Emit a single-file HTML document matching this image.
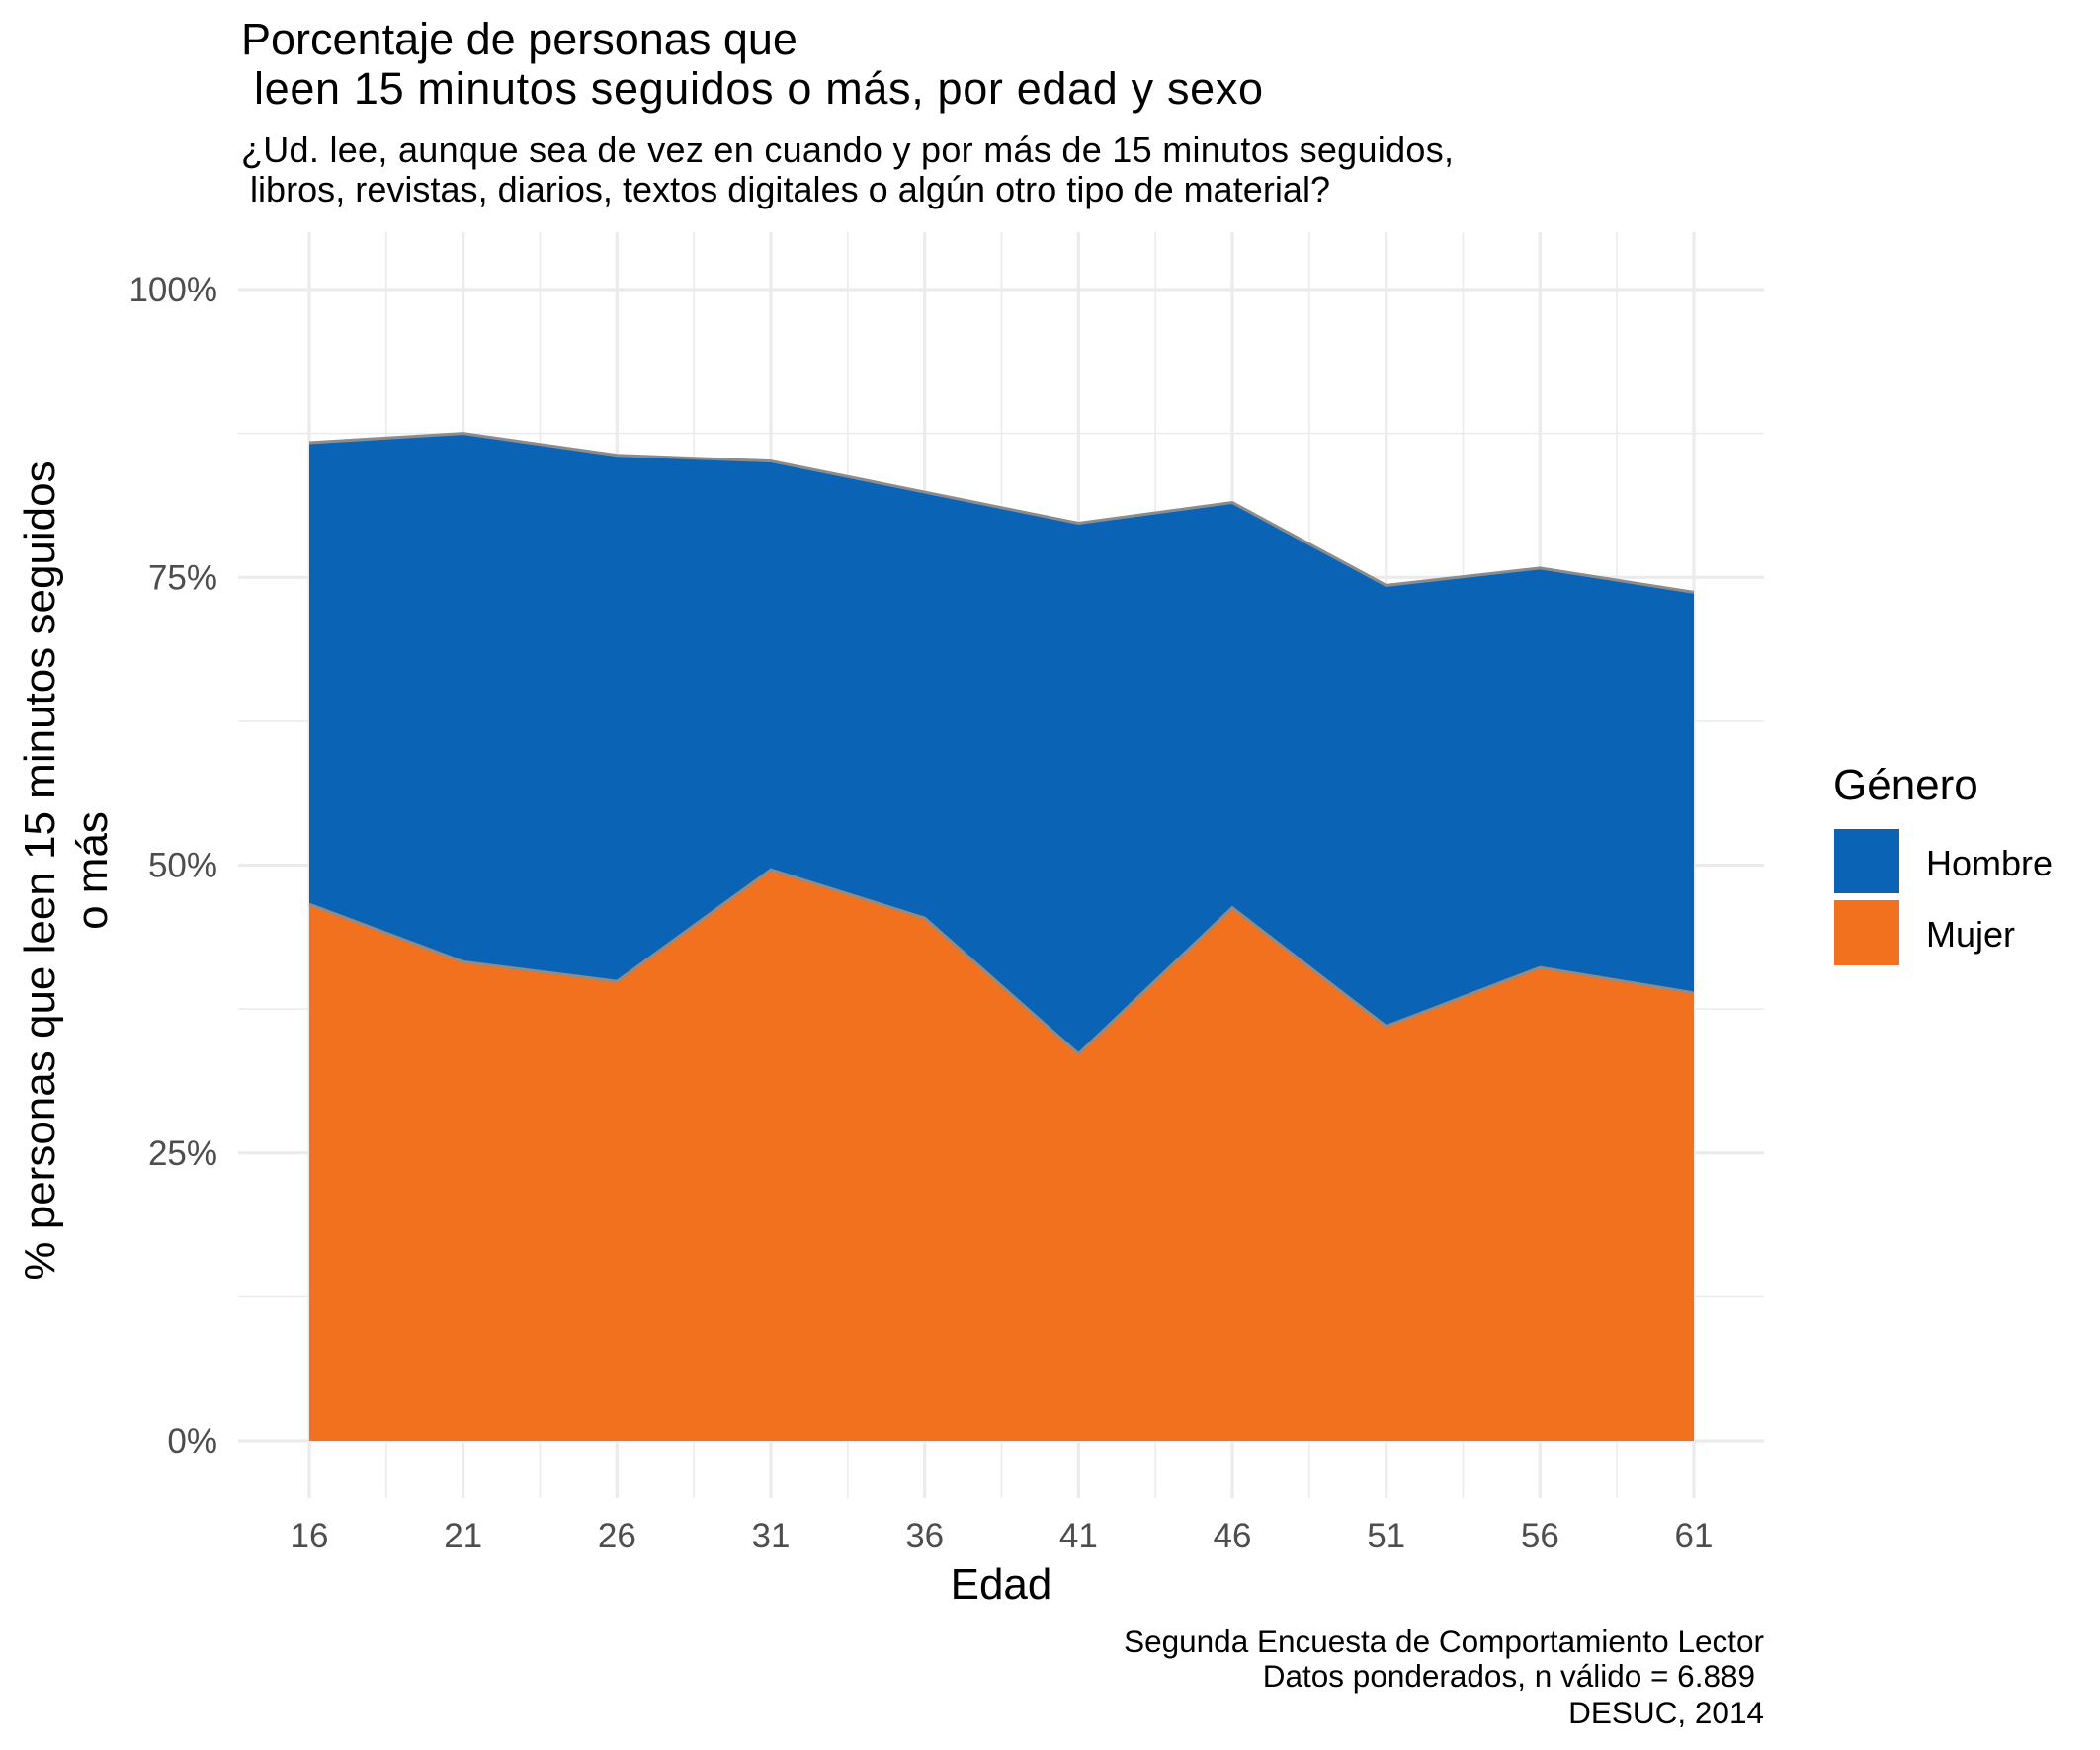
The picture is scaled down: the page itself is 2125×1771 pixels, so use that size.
<!DOCTYPE html>
<html><head><meta charset="utf-8"><style>html,body{margin:0;padding:0;background:#fff}svg{display:block;font-family:"Liberation Sans",Arial,sans-serif}</style></head>
<body>
<svg id="chart" width="2125" height="1771" viewBox="0 0 2125 1771" xmlns="http://www.w3.org/2000/svg">
<rect width="2125" height="1771" fill="#fff"/>
<g id="grid"></g>
<g id="areas"></g>
<g id="ticks"></g>
<text x="244" y="55" font-size="45" fill="#000">Porcentaje de personas que</text>
<text x="257" y="105" font-size="45" fill="#000" textLength="1021">leen 15 minutos seguidos o más, por edad y sexo</text>
<text x="244" y="164" font-size="36" fill="#000" textLength="1227">¿Ud. lee, aunque sea de vez en cuando y por más de 15 minutos seguidos,</text>
<text x="253" y="204" font-size="36" fill="#000" textLength="1093">libros, revistas, diarios, textos digitales o algún otro tipo de material?</text>
<text x="1013" y="1618" font-size="44" text-anchor="middle" fill="#000">Edad</text>
<g transform="translate(0,881) rotate(-90)">
<text x="0" y="55" font-size="44" text-anchor="middle" fill="#000">% personas que leen 15 minutos seguidos</text>
<text x="0" y="108" font-size="44" text-anchor="middle" fill="#000">o más</text>
</g>
<text x="1855" y="809" font-size="44" fill="#000">Género</text>
<rect x="1856" y="839" width="66" height="65" fill="#0a63b4"/>
<rect x="1856" y="911" width="66" height="66" fill="#f2711f"/>
<text x="1949" y="886" font-size="36" fill="#000">Hombre</text>
<text x="1949" y="958" font-size="36" fill="#000">Mujer</text>
<g font-size="31.5" fill="#000" text-anchor="end">
<text x="1785" y="1672">Segunda Encuesta de Comportamiento Lector</text>
<text x="1776" y="1707">Datos ponderados, n válido = 6.889</text>
<text x="1785" y="1744">DESUC, 2014</text>
</g>
</svg>
<script>
const ages = [16,21,26,31,36,41,46,51,56,61];
const mujer = [46.6,41.6,39.9,49.6,45.4,33.6,46.3,36.0,41.1,38.9];
const hombre = [40.1,45.9,45.7,35.5,37.0,46.1,35.2,38.3,34.7,34.8];
const yTicks = [0,25,50,75,100];
const yTickLabels = ["0%","25%","50%","75%","100%"];

const NS = "http://www.w3.org/2000/svg";
const X0=313, X1=1714, Y0=1458, Y1=293;
const PL=241, PR=1785, PT=235, PB=1516;
const xs = a => X0 + (a-16)/(61-16)*(X1-X0);
const ys = v => Y0 - v/100*(Y0-Y1);
function mk(tag, attrs, parent){const e=document.createElementNS(NS,tag);for(const k in attrs)e.setAttribute(k,attrs[k]);parent.appendChild(e);return e;}
const grid=document.getElementById('grid'), areas=document.getElementById('areas'), ticks=document.getElementById('ticks');
for(let i=0;i<yTicks.length-1;i++){
  const v=(yTicks[i]+yTicks[i+1])/2;
  const l=mk('line',{x1:PL,x2:PR,y1:ys(v),y2:ys(v),stroke:'#ebebeb','stroke-width':1.6},grid);
  
  
}
for(let i=0;i<ages.length-1;i++){
  const a=(ages[i]+ages[i+1])/2;
  const l=mk('line',{x1:xs(a),x2:xs(a),y1:PT,y2:PB,stroke:'#ebebeb','stroke-width':1.6},grid);
  
  
}
yTicks.forEach((v,i)=>{
  const l=mk('line',{x1:PL,x2:PR,y1:ys(v),y2:ys(v),stroke:'#ebebeb','stroke-width':3.2},grid);
  
  
  const t=mk('text',{x:220,y:ys(v)+12,'font-size':35,'text-anchor':'end',fill:'#4d4d4d'},ticks);
  t.textContent=yTickLabels[i];
  
  
});
ages.forEach(a=>{
  const l=mk('line',{x1:xs(a),x2:xs(a),y1:PT,y2:PB,stroke:'#ebebeb','stroke-width':3.2},grid);
  
  
  const t=mk('text',{x:xs(a),y:1566,'font-size':35,'text-anchor':'middle',fill:'#4d4d4d'},ticks);
  t.textContent=String(a);
  
  
});
const tot = ages.map((_,i)=>mujer[i]+hombre[i]);
const topM = ages.map((a,i)=>xs(a)+','+ys(mujer[i]));
const topT = ages.map((a,i)=>xs(a)+','+ys(tot[i]));
const h=mk('polygon',{points:topT.join(' ')+' '+topM.slice().reverse().join(' '),fill:'#0a63b4'},areas);


const m=mk('polygon',{points:topM.join(' ')+' '+xs(61)+','+Y0+' '+xs(16)+','+Y0,fill:'#f2711f'},areas);


const lm=mk('polyline',{points:topM.join(' '),fill:'none',stroke:'#8c8c8c','stroke-width':3},areas);


const lt=mk('polyline',{points:topT.join(' '),fill:'none',stroke:'#8c8c8c','stroke-width':3},areas);


</script>
</body></html>
